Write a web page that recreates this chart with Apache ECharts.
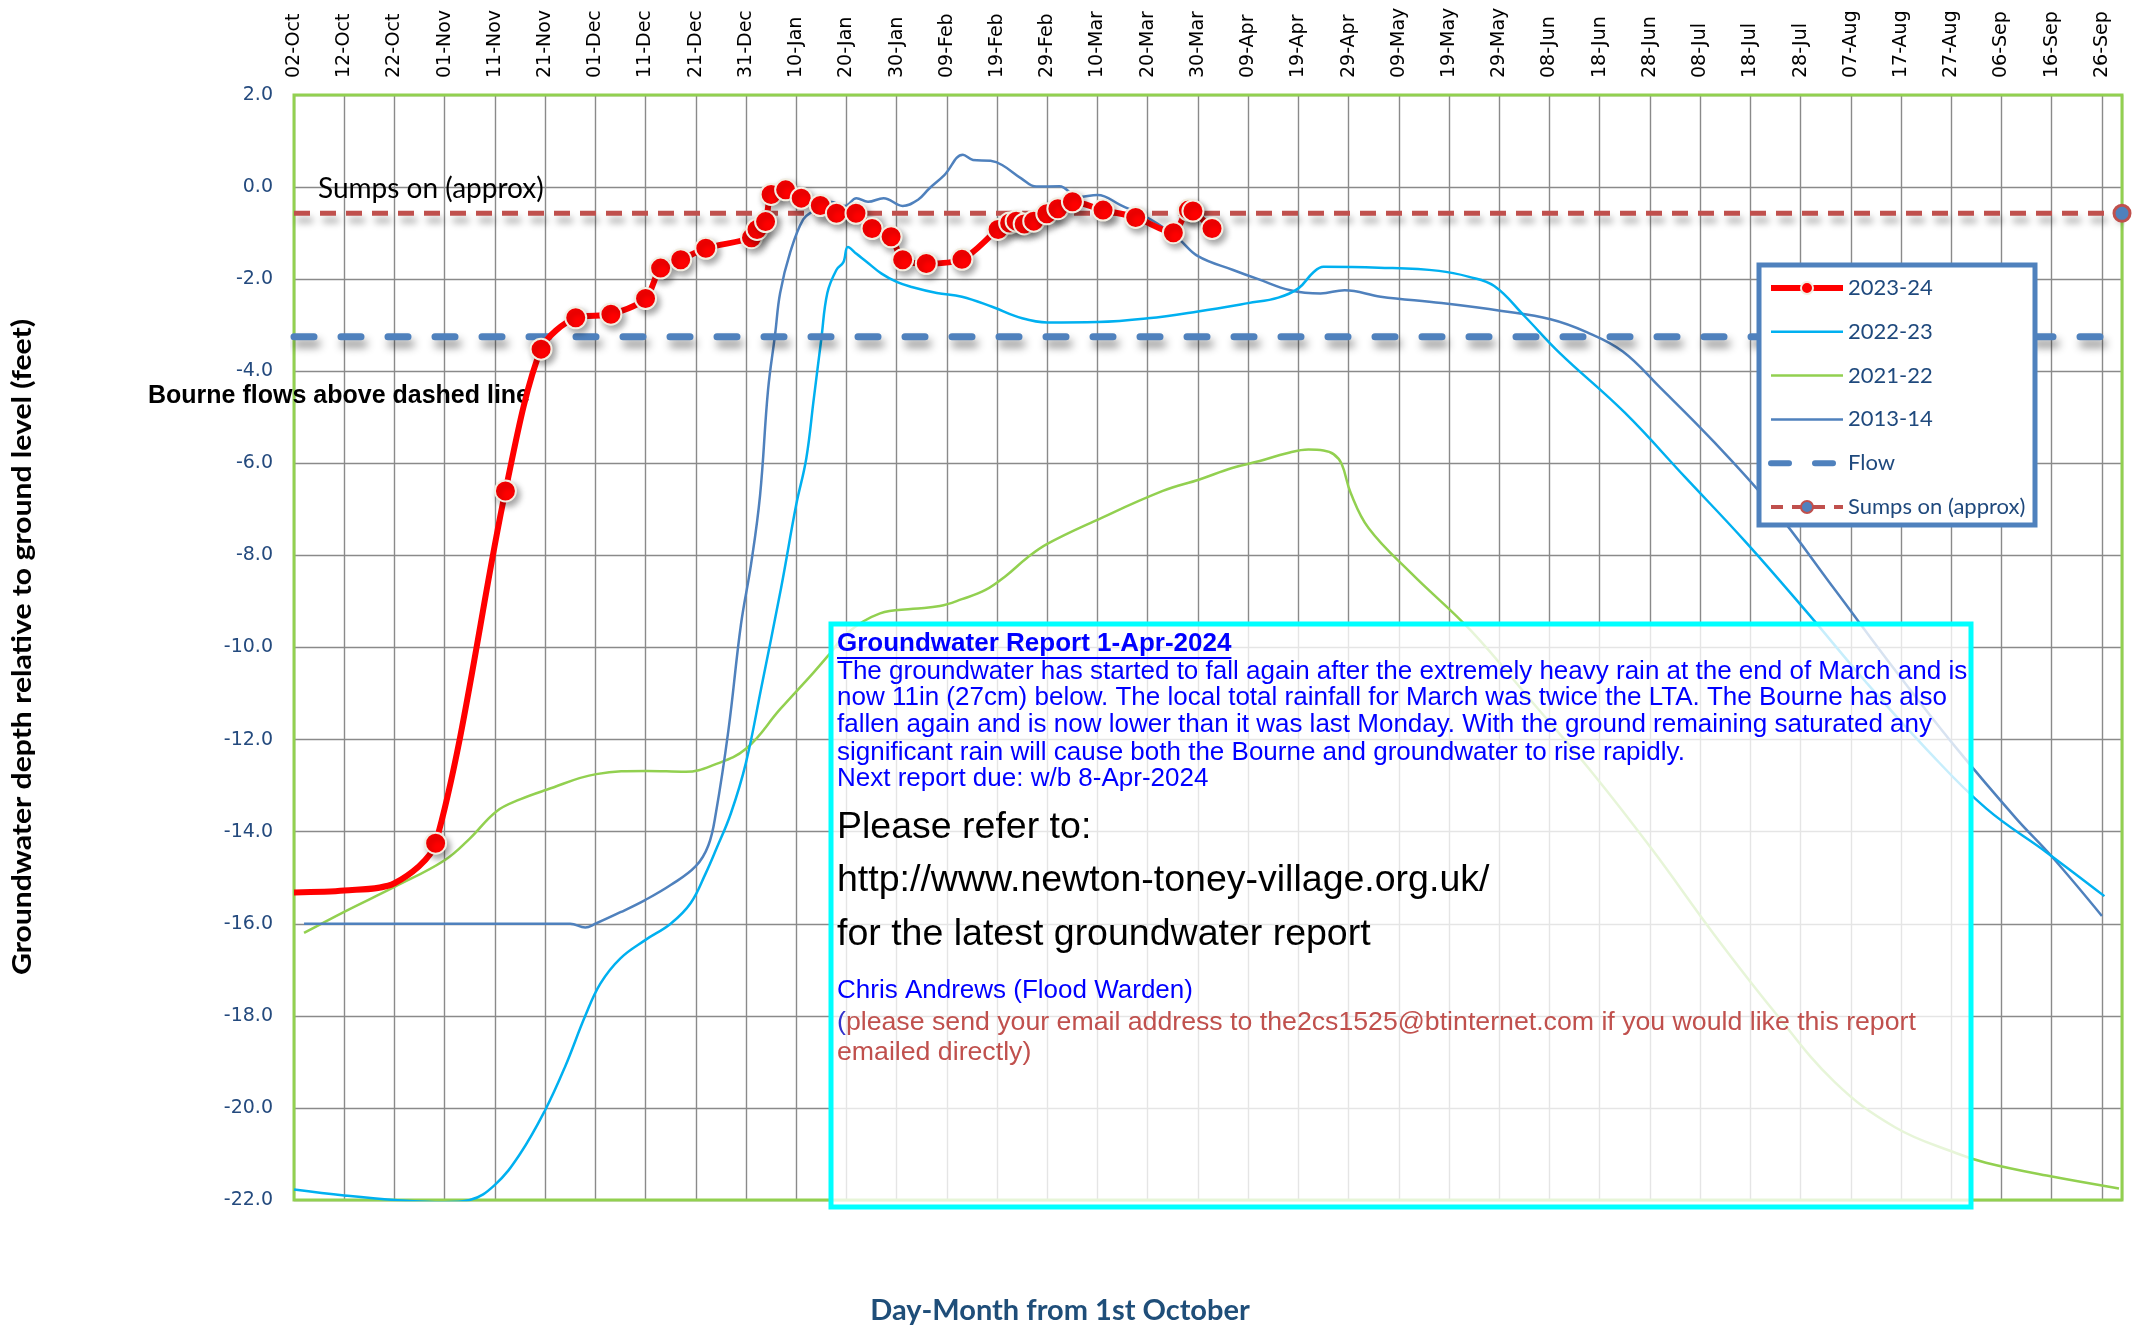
<!DOCTYPE html>
<html>
<head>
<meta charset="utf-8">
<title>Groundwater depth - Newton Toney</title>
<script src="https://cdn.jsdelivr.net/npm/echarts/dist/echarts.min.js"></script>
<style>
    html, body { margin: 0; padding: 0; background: #ffffff; }
    #chart { width: 2149px; height: 1326px; }
</style>
</head>
<body>
<div id="chart"></div>
<script>
// x = days after 02-Oct, y = depth in feet
var tickLabels = ['02-Oct', '12-Oct', '22-Oct', '01-Nov', '11-Nov', '21-Nov', '01-Dec', '11-Dec', '21-Dec', '31-Dec',
    '10-Jan', '20-Jan', '30-Jan', '09-Feb', '19-Feb', '29-Feb', '10-Mar', '20-Mar', '30-Mar', '09-Apr',
    '19-Apr', '29-Apr', '09-May', '19-May', '29-May', '08-Jun', '18-Jun', '28-Jun', '08-Jul', '18-Jul',
    '28-Jul', '07-Aug', '17-Aug', '27-Aug', '06-Sep', '16-Sep', '26-Sep'];

var lead2324 = [[0, -15.32], [10, -15.28], [20, -15.12]];
var readings2324 = [[28.2, -14.25], [42.1, -6.6], [49.2, -3.52], [56.1, -2.84], [63.1, -2.76], [70.0, -2.42],
    [73.0, -1.76], [77.0, -1.58], [82.0, -1.33], [91.1, -1.1], [92.2, -0.92], [93.9, -0.75], [95.0, -0.16],
    [97.9, -0.06], [101.0, -0.24], [104.8, -0.4], [108.0, -0.57], [111.9, -0.57], [115.1, -0.9],
    [118.9, -1.08], [121.2, -1.58], [125.9, -1.66], [133.0, -1.57], [140.2, -0.92], [142.5, -0.78],
    [143.8, -0.74], [145.4, -0.8], [147.3, -0.74], [149.9, -0.58], [152.1, -0.47], [155.0, -0.32],
    [161.1, -0.5], [167.6, -0.66], [175.1, -0.99], [178.1, -0.5], [179.0, -0.52], [182.8, -0.9]];

var levels2223 = [[0, -21.77], [10, -21.9], [20, -22.0], [30, -22.05], [35, -22.0], [40, -21.67], [45, -21.0],
    [50, -20.05], [54, -19.1], [58, -18.0], [61, -17.3], [65, -16.75], [70, -16.35], [75, -16.0], [79, -15.55],
    [82, -14.9], [84, -14.4], [87, -13.6], [90, -12.5], [93, -10.9], [97, -8.7], [100, -6.9], [102, -5.9],
    [103.5, -4.6], [105, -3.3], [106.2, -2.3], [108, -1.8], [109.4, -1.63], [110.3, -1.3], [112, -1.45],
    [114, -1.62], [117, -1.88], [120, -2.06], [123, -2.17], [128, -2.3], [133, -2.38], [139, -2.6],
    [145, -2.85], [150, -2.94], [160, -2.93], [170, -2.85], [180, -2.7], [190, -2.52], [196, -2.4],
    [200, -2.2], [203, -1.85], [205, -1.73], [216, -1.75], [228, -1.82], [234, -1.95], [239, -2.15],
    [245, -2.8], [252, -3.6], [265, -4.9], [277, -6.3], [289, -7.7], [301, -9.2], [313, -10.75],
    [325, -12.2], [337, -13.5], [349, -14.45], [360.5, -15.4]];

var levels2122 = [[2, -16.2], [10, -15.74], [20, -15.2], [30, -14.62], [35, -14.15], [40.3, -13.56], [45, -13.3],
    [50.3, -13.09], [60.2, -12.75], [70.2, -12.68], [78, -12.7], [83.6, -12.55], [90, -12.2], [96.8, -11.34],
    [103.4, -10.55], [106.8, -10.12], [110.1, -9.69], [116.7, -9.26], [123.3, -9.16], [128.6, -9.1],
    [133, -8.95], [137.7, -8.75], [141.8, -8.44], [146, -8.05], [150, -7.75], [159.5, -7.25], [173, -6.6],
    [180.3, -6.35], [186.8, -6.1], [192.3, -5.95], [197.7, -5.78], [202, -5.7], [205, -5.72], [207, -5.8],
    [208.6, -6.01], [210.4, -6.64], [214, -7.41], [222.5, -8.39], [234.5, -9.65], [246.6, -11.19],
    [258.6, -12.73], [270.6, -14.41], [282.7, -16.22], [294.7, -17.9], [306.8, -19.44], [318.8, -20.42],
    [330.9, -20.98], [336.9, -21.19], [349, -21.47], [363.4, -21.75]];

var levels1314 = [[2, -16.0], [20, -16.0], [40, -16.0], [55, -16.0], [58, -16.08], [60, -16.0], [65, -15.75],
    [70, -15.48], [75, -15.16], [80, -14.75], [82.5, -14.3], [84, -13.6], [86.5, -11.8], [89, -9.5],
    [91, -8.2], [92.8, -6.7], [94.4, -4.4], [95.8, -3.2], [96.8, -2.3], [98.8, -1.42], [101.4, -0.7],
    [103.6, -0.5], [104.7, -0.39], [106.7, -0.32], [109.7, -0.41], [112, -0.24], [114.3, -0.32],
    [117.4, -0.24], [121.2, -0.41], [124.2, -0.28], [126.5, -0.03], [129.5, 0.26], [133.2, 0.7],
    [135.2, 0.59], [138.7, 0.57], [141, 0.48], [144.8, 0.19], [147.8, 0.01], [152.4, 0.02], [156.2, -0.22],
    [160, -0.17], [164.6, -0.39], [170.7, -0.71], [176, -1.11], [180, -1.5], [187, -1.8], [192, -2.0],
    [198.4, -2.24], [204.4, -2.31], [209.2, -2.24], [216.4, -2.38], [228.5, -2.52], [240.5, -2.69],
    [250.2, -2.87], [257.4, -3.15], [264.6, -3.57], [271.9, -4.34], [282.7, -5.53], [294.7, -6.99],
    [306.8, -8.74], [318.8, -10.49], [330.9, -12.17], [342.9, -13.71], [350.1, -14.55], [360, -15.83]];

var flowLevel = -3.25;
var sumpsLevel = -0.57;
var dayRange = [0, 364];

var reportTitle = 'Groundwater Report 1-Apr-2024';
var reportBody = [
    'The groundwater has started to fall again after the extremely heavy rain at the end of March and is',
    'now 11in (27cm) below. The local total rainfall for March was twice the LTA. The Bourne has also',
    'fallen again and is now lower than it was last Monday. With the ground remaining saturated any',
    'significant rain will cause both the Bourne and groundwater to rise rapidly.',
    'Next report due: w/b 8-Apr-2024'
];
var referLines = ['Please refer to:', 'http://www.newton-toney-village.org.uk/', 'for the latest groundwater report'];
var signLines = ['Chris Andrews (Flood Warden)'];
var emailLines = ['please send your email address to the2cs1525@btinternet.com if you would like this report', 'emailed directly)'];

var chartDom = document.getElementById('chart');
var myChart = echarts.init(chartDom);

var measure = function(text, font) {
    var ctx = document.createElement('canvas').getContext('2d');
    ctx.font = font;
    return ctx.measureText(text).width;
};

var titleFont = 'bold 26px "Liberation Sans", Arial, sans-serif';
var bodyFont = '26px "Liberation Sans", Arial, sans-serif';
var emailFont = '26.7px "Liberation Sans", Arial, sans-serif';
var bigFont = '37.5px "Liberation Sans", Arial, sans-serif';

var textEl = function(text, x, y, font, fill, extra) {
    var el = {
        type: 'text', x: x, y: y, z: 10,
        style: { text: text, font: font, fill: fill, align: 'left', verticalAlign: 'middle' }
    };
    if (extra) {
        for (var k in extra) { el[k] = extra[k]; }
    }
    return el;
};

var graphics = [];
// text box
graphics.push({ type: 'rect', z: 8, shape: { x: 831, y: 624, width: 1140, height: 583 },
    style: { fill: 'rgba(255,255,255,0.78)', stroke: '#00FFFF', lineWidth: 5 } });
graphics.push(textEl(reportTitle, 837, 644, titleFont, '#0000FF'));
graphics.push({ type: 'line', z: 10, shape: { x1: 837, y1: 658, x2: 837 + measure(reportTitle, titleFont), y2: 658 },
    style: { stroke: '#0000FF', lineWidth: 2 } });
var bodyY = [672, 698, 725, 753, 779];
for (var i = 0; i < reportBody.length; i++) {
    graphics.push(textEl(reportBody[i], 837, bodyY[i], bodyFont, '#0000FF'));
}
var referY = [828, 881, 935];
for (var j = 0; j < referLines.length; j++) {
    graphics.push(textEl(referLines[j], 837, referY[j], bigFont, '#000000'));
}
graphics.push(textEl(signLines[0], 837, 991, bodyFont, '#0000FF'));
graphics.push(textEl('(', 837, 1023, emailFont, '#3333CC'));
graphics.push(textEl(emailLines[0], 837 + measure('(', emailFont), 1023, emailFont, '#C0504D'));
graphics.push(textEl(emailLines[1], 837, 1053, emailFont, '#C0504D'));

// legend frame, drawn over the series
graphics.push({ type: 'rect', z: 5, shape: { x: 1759, y: 265, width: 276, height: 260 },
    style: { fill: '#ffffff', stroke: '#4F81BD', lineWidth: 5 } });

// annotations
graphics.push(textEl('Sumps on (approx)', 318, 189, '28px Lato, sans-serif', '#000000', { z: 4 }));
graphics.push(textEl('Bourne flows above dashed line', 148, 396, 'bold 25px "Liberation Sans", Arial, sans-serif', '#000000', { z: 4 }));

// axis titles
var yTitle = 'Groundwater depth relative to ground level (feet)';
var yTitleFont = 'bold 26px Lato, sans-serif';
graphics.push({ type: 'text', x: 23, y: 647, rotation: Math.PI / 2, scaleX: 656 / measure(yTitle, yTitleFont), z: 4,
    style: { text: yTitle, font: yTitleFont, fill: '#000000', align: 'center', verticalAlign: 'middle' } });
graphics.push({ type: 'text', x: 1060, y: 1311, z: 4,
    style: { text: 'Day-Month from 1st October', font: 'bold 29px Lato, sans-serif',
        fill: '#1F4E79', align: 'center', verticalAlign: 'middle' } });

// plot frame
graphics.push({ type: 'rect', z: 1, shape: { x: 294, y: 95, width: 1828, height: 1105 },
    style: { fill: 'none', stroke: '#92D050', lineWidth: 3 } });

var hiddenMark = { opacity: 0 };

var option = {
    animation: false,
    backgroundColor: '#ffffff',
    grid: {
        left: 294, right: 27, top: 95, bottom: 126,
        containLabel: false,
        outerBoundsMode: 'none'
    },
    legend: {
        orient: 'vertical',
        left: 1768,
        top: 277,
        padding: 0,
        z: 6,
        itemWidth: 72,
        itemHeight: 15,
        itemGap: 21.8,
        textStyle: { fontFamily: 'Lato', fontSize: 22, color: '#1F497D', lineHeight: 22 },
        data: [
            { name: '2023-24', lineStyle: { width: 6 } },
            { name: '2022-23', lineStyle: { width: 2.5 }, itemStyle: hiddenMark },
            { name: '2021-22', lineStyle: { width: 2.5 }, itemStyle: hiddenMark },
            { name: '2013-14', lineStyle: { width: 2.5 }, itemStyle: hiddenMark },
            { name: 'Flow', lineStyle: { width: 6, type: [18, 26], cap: 'round' }, itemStyle: hiddenMark },
            { name: 'Sumps on (approx)', lineStyle: { width: 4, type: [12, 9] } }
        ]
    },
    xAxis: {
        type: 'value',
        position: 'top',
        min: dayRange[0],
        max: dayRange[1],
        interval: 10,
        axisLine: { show: false },
        axisTick: { show: false },
        splitLine: { show: true, lineStyle: { color: '#8a8a8a', width: 1.4 } },
        axisLabel: {
            rotate: 90,
            margin: 17,
            showMaxLabel: false,
            fontFamily: 'DejaVu Sans',
            fontSize: 19,
            color: '#000000',
            formatter: function(v) {
                if (v % 10 !== 0) return '';
                return tickLabels[v / 10] || '';
            }
        }
    },
    yAxis: {
        type: 'value',
        min: -22,
        max: 2,
        interval: 2,
        axisLine: { show: false },
        axisTick: { show: false },
        splitLine: { show: true, lineStyle: { color: '#8a8a8a', width: 1.4 } },
        axisLabel: {
            margin: 21,
            fontFamily: 'DejaVu Sans',
            fontSize: 19,
            color: '#244A7E',
            formatter: function(v) { return v.toFixed(1); }
        }
    },
    graphic: { elements: graphics },
    series: [
        {
            name: 'Flow',
            type: 'line',
            z: 3,
            symbol: 'none',
            data: [[dayRange[0], flowLevel], [dayRange[1], flowLevel]],
            lineStyle: { color: '#4F81BD', width: 7, type: [20, 27], cap: 'round',
                shadowColor: 'rgba(0,0,0,0.45)', shadowBlur: 8, shadowOffsetY: 7, shadowOffsetX: 3 },
            itemStyle: { color: '#4F81BD' }
        },
        {
            name: 'Sumps on (approx)',
            type: 'line',
            z: 3,
            clip: false,
            symbol: 'circle',
            symbolSize: 16,
            data: [{ value: [dayRange[0], sumpsLevel], symbol: 'none' }, [dayRange[1], sumpsLevel]],
            lineStyle: { color: '#C0504D', width: 5, type: [16, 10],
                shadowColor: 'rgba(0,0,0,0.35)', shadowBlur: 7, shadowOffsetY: 7, shadowOffsetX: 3 },
            itemStyle: { color: '#4F81BD', borderColor: '#C0504D', borderWidth: 3 }
        },
        {
            name: '2021-22',
            type: 'line',
            z: 2,
            symbol: 'none',
            smooth: 0.4,
            data: levels2122,
            lineStyle: { color: '#92D050', width: 2.5 },
            itemStyle: { color: '#92D050' }
        },
        {
            name: '2013-14',
            type: 'line',
            z: 2,
            symbol: 'none',
            smooth: 0.4,
            data: levels1314,
            lineStyle: { color: '#4F81BD', width: 2.5 },
            itemStyle: { color: '#4F81BD' }
        },
        {
            name: '2022-23',
            type: 'line',
            z: 2,
            symbol: 'none',
            smooth: 0.4,
            data: levels2223,
            lineStyle: { color: '#00B0F0', width: 2.5 },
            itemStyle: { color: '#00B0F0' }
        },
        {
            name: '2023-24',
            type: 'line',
            z: 4,
            symbol: 'circle',
            symbolSize: 21,
            smooth: 0.3,
            data: lead2324.map(function(p) { return { value: p, symbol: 'none' }; }).concat(readings2324),
            lineStyle: { color: '#FF0000', width: 6 },
            itemStyle: { color: '#FF0000', borderColor: '#F2EEE2', borderWidth: 2,
                shadowColor: 'rgba(0,0,0,0.35)', shadowBlur: 6, shadowOffsetX: 3, shadowOffsetY: 4 }
        }
    ]
};

myChart.setOption(option);
</script>
</body>
</html>
